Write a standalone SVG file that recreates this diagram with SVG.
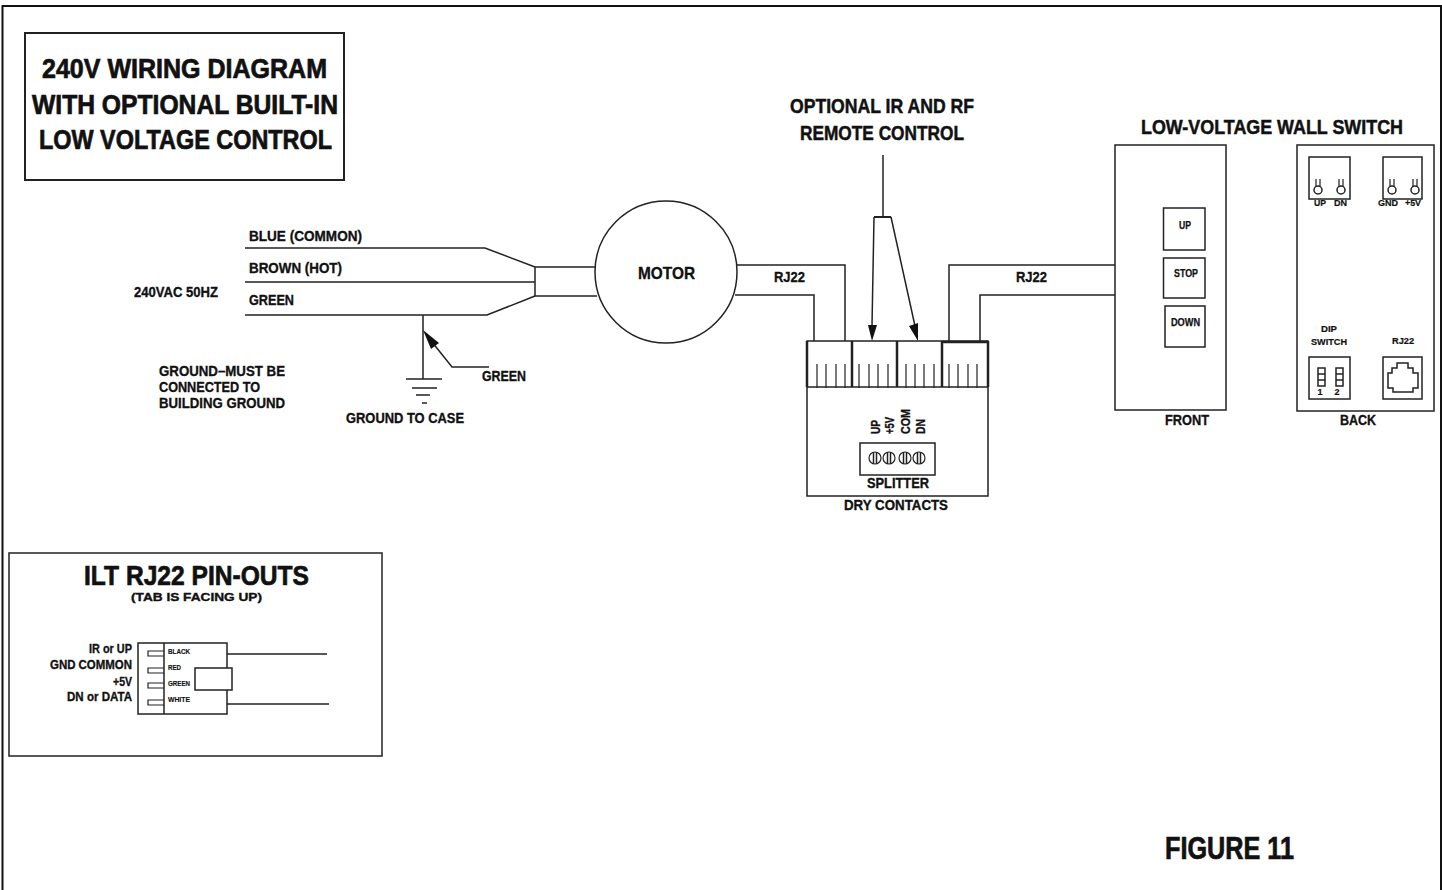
<svg xmlns="http://www.w3.org/2000/svg" width="1442" height="890" viewBox="0 0 1442 890">
<style>
text{font-family:"Liberation Sans",Arial,sans-serif;font-weight:700;fill:#111;stroke:#111;stroke-width:.35px}
.l{fill:none;stroke:#222;stroke-width:1.5}
.t{fill:none;stroke:#222;stroke-width:1.2}
.b{fill:#fff;stroke:#222;stroke-width:1.5}
.a{fill:#111;stroke:none}
.s9{font-size:9px;stroke-width:.2px}.s10{font-size:10px;stroke-width:.25px}.s7{font-size:7px;stroke-width:.15px}.s15{font-size:15px}.s20{font-size:20px;stroke-width:.5px}.s27{font-size:27px;stroke-width:.7px}.s31{font-size:31px;stroke-width:.7px}
.m{text-anchor:middle}
</style>
<defs>
<g id="switch"><path class="t" d="M-2 -11V-3M2 -11V-3"/><circle cx="0" cy="0" r="4" fill="#fff" stroke="#222" stroke-width="1.5"/></g>
<g id="screw"><circle class="t" cx="0" cy="0" r="6"/><path class="l" d="M-1.5 -6V6M1.5 -6V6"/></g>
</defs>
<rect width="1442" height="890" fill="#fff"/>
<path id="frame" d="M2.5 890V6H1441V890" fill="none" stroke="#111" stroke-width="2"/>
<g id="title"><rect class="b" style="stroke-width:2" x="25" y="33" width="319" height="147"/>
<text class="s27" x="42" y="78" textLength="285" lengthAdjust="spacingAndGlyphs">240V WIRING DIAGRAM</text>
<text class="s27" x="32" y="114" textLength="306" lengthAdjust="spacingAndGlyphs">WITH OPTIONAL BUILT-IN</text>
<text class="s27" x="39" y="149" textLength="293" lengthAdjust="spacingAndGlyphs">LOW VOLTAGE CONTROL</text></g>
<g id="connectors">
<path class="l" d="M245 248H485L535 267M245 282H535M245 315H487L535 296M535 267V296M535 267H597M535 296H597"/>
<path class="l" d="M423 315V379M406 379H442M412 388H437M416 395H430M422 403H427"/>
<path class="l" d="M489 367H452L428 337"/><path class="a" d="M423 330L439 343 431 349Z"/>
<path class="l" d="M735 265H845V341M735 295H814V341M949 341V265H1115M980 341V295H1115"/>
<path class="l" d="M883 155V217"/><path style="fill:none;stroke:#222;stroke-width:2" d="M874 217H891"/>
<path class="l" d="M874 217L872 326M891 217L915 326"/>
<path class="a" d="M868 325H877L872 341ZM909 326L918 323 918 341Z"/>
</g>
<g id="labels-wiring">
<text class="s15" x="249" y="241" textLength="113" lengthAdjust="spacingAndGlyphs">BLUE (COMMON)</text>
<text class="s15" x="249" y="273" textLength="93" lengthAdjust="spacingAndGlyphs">BROWN (HOT)</text>
<text class="s15" x="249" y="305" textLength="45" lengthAdjust="spacingAndGlyphs">GREEN</text>
<text class="s15" x="134" y="297" textLength="84" lengthAdjust="spacingAndGlyphs">240VAC 50HZ</text>
<text class="s15" x="159" y="376" textLength="126" lengthAdjust="spacingAndGlyphs">GROUND–MUST BE</text>
<text class="s15" x="159" y="392" textLength="101" lengthAdjust="spacingAndGlyphs">CONNECTED TO</text>
<text class="s15" x="159" y="408" textLength="126" lengthAdjust="spacingAndGlyphs">BUILDING GROUND</text>
<text class="s15" x="346" y="423" textLength="118" lengthAdjust="spacingAndGlyphs">GROUND TO CASE</text>
<text class="s15" x="482" y="381" textLength="44" lengthAdjust="spacingAndGlyphs">GREEN</text>
<text class="s15" x="774" y="282" textLength="31" lengthAdjust="spacingAndGlyphs">RJ22</text>
<text class="s15" x="1016" y="282" textLength="31" lengthAdjust="spacingAndGlyphs">RJ22</text>
<text class="s20" x="790" y="113" textLength="184" lengthAdjust="spacingAndGlyphs">OPTIONAL IR AND RF</text>
<text class="s20" x="800" y="140" textLength="164" lengthAdjust="spacingAndGlyphs">REMOTE CONTROL</text>
</g>
<g id="motor"><circle class="b" cx="666" cy="272" r="71"/>
<text x="638" y="279" font-size="17" textLength="57" lengthAdjust="spacingAndGlyphs">MOTOR</text></g>
<g id="splitter">
<rect class="b" x="807" y="341" width="181" height="155"/>
<path class="l" d="M807 387H988"/>
<path style="fill:none;stroke:#222;stroke-width:2.5" d="M807 341V387M852 341V387M897 341V387M942 341V387M942 342H988M988 341V387"/>
<path class="t" d="M817 364V388M826 364V388M836 364V388M845 364V388M859 364V388M869 364V388M878 364V388M888 364V388M906 364V388M915 364V388M924 364V388M934 364V388M949 364V388M958 364V388M968 364V388M977 364V388"/>
<rect class="b" x="860" y="443" width="75" height="32"/>
<use href="#screw" x="875" y="458"/><use href="#screw" x="889" y="458"/><use href="#screw" x="905" y="458"/><use href="#screw" x="919" y="458"/>
<text font-size="13" transform="translate(880 434) rotate(-90)" textLength="14" lengthAdjust="spacingAndGlyphs">UP</text>
<text font-size="13" transform="translate(894 434) rotate(-90)" textLength="17" lengthAdjust="spacingAndGlyphs">+5V</text>
<text font-size="13" transform="translate(910 434) rotate(-90)" textLength="25" lengthAdjust="spacingAndGlyphs">COM</text>
<text font-size="13" transform="translate(925 434) rotate(-90)" textLength="15" lengthAdjust="spacingAndGlyphs">DN</text>
<text class="s15" x="867" y="488" textLength="62" lengthAdjust="spacingAndGlyphs">SPLITTER</text>
<text class="s15" x="844" y="510" textLength="104" lengthAdjust="spacingAndGlyphs">DRY CONTACTS</text>
</g>
<g id="wall-switch-front">
<text class="s20" x="1141" y="134" textLength="262" lengthAdjust="spacingAndGlyphs">LOW-VOLTAGE WALL SWITCH</text>
<rect class="b" x="1115" y="145" width="111" height="265"/>
<rect class="b" x="1163.5" y="208" width="41.5" height="42"/>
<rect class="b" x="1163.5" y="258" width="41.5" height="40"/>
<rect class="b" x="1165" y="306" width="40" height="41"/>
<text class="s10" x="1179" y="229" textLength="12" lengthAdjust="spacingAndGlyphs">UP</text>
<text class="s10" x="1174" y="277" textLength="24" lengthAdjust="spacingAndGlyphs">STOP</text>
<text class="s10" x="1171" y="326" textLength="29" lengthAdjust="spacingAndGlyphs">DOWN</text>
<text class="s15" x="1165" y="425" textLength="44" lengthAdjust="spacingAndGlyphs">FRONT</text>
</g>
<g id="wall-switch-back">
<rect class="b" x="1297" y="145" width="137" height="266"/>
<rect class="b" x="1309" y="157" width="41" height="42"/>
<rect class="b" x="1383" y="157" width="39" height="42"/>
<use href="#switch" x="1318" y="190"/><use href="#switch" x="1341" y="190"/><use href="#switch" x="1392" y="190"/><use href="#switch" x="1415" y="190"/>
<text class="s9" x="1314" y="206" textLength="12" lengthAdjust="spacingAndGlyphs">UP</text><text class="s9" x="1334" y="206" textLength="13" lengthAdjust="spacingAndGlyphs">DN</text>
<text class="s9" x="1378" y="206" textLength="20" lengthAdjust="spacingAndGlyphs">GND</text><text class="s9" x="1405" y="206" textLength="16" lengthAdjust="spacingAndGlyphs">+5V</text>
<text class="s9" x="1321" y="332" textLength="16" lengthAdjust="spacingAndGlyphs">DIP</text><text class="s9" x="1311" y="345" textLength="36" lengthAdjust="spacingAndGlyphs">SWITCH</text>
<text class="s9" x="1392" y="344" textLength="22" lengthAdjust="spacingAndGlyphs">RJ22</text>
<rect class="b" x="1309" y="357" width="41" height="42"/>
<path class="l" d="M1318 368H1325V386H1318ZM1318 374H1325M1318 380H1325M1336 368H1343V386H1336ZM1336 374H1343M1336 380H1343"/>
<text class="s9 m" x="1320" y="395">1</text><text class="s9 m" x="1337" y="395">2</text>
<rect class="b" x="1383" y="357" width="39" height="42"/>
<path class="l" d="M1397 363H1408V368H1413V373H1418V388H1413V392H1393V388H1388V373H1392V368H1397Z"/>
<text class="s15" x="1340" y="425" textLength="36" lengthAdjust="spacingAndGlyphs">BACK</text>
</g>
<g id="pinouts">
<rect class="b" x="9" y="553" width="373" height="203"/>
<text x="84" y="585" font-size="28" style="stroke-width:.7px" textLength="225" lengthAdjust="spacingAndGlyphs">ILT RJ22 PIN-OUTS</text>
<text x="131" y="601" font-size="11" textLength="131" lengthAdjust="spacingAndGlyphs">(TAB IS FACING UP)</text>
<text x="89" y="653" font-size="13" textLength="43" lengthAdjust="spacingAndGlyphs">IR or UP</text>
<text x="50" y="669" font-size="13" textLength="82" lengthAdjust="spacingAndGlyphs">GND COMMON</text>
<text x="113" y="686" font-size="13" textLength="19" lengthAdjust="spacingAndGlyphs">+5V</text>
<text x="67" y="701" font-size="13" textLength="65" lengthAdjust="spacingAndGlyphs">DN or DATA</text>
<path class="l" d="M227 654H327M227 704H329"/>
<rect class="b" x="138" y="643" width="89" height="71"/>
<path class="l" d="M164 643V714"/>
<path class="t" d="M164 651H148V656H164M164 668H148V673H164M164 683H148V688H164M164 700H148V705H164"/>
<rect class="b" x="195" y="668" width="37" height="22"/>
<text class="s7" x="168" y="654" textLength="22" lengthAdjust="spacingAndGlyphs">BLACK</text><text class="s7" x="168" y="670" textLength="13" lengthAdjust="spacingAndGlyphs">RED</text>
<text class="s7" x="168" y="686" textLength="22" lengthAdjust="spacingAndGlyphs">GREEN</text><text class="s7" x="168" y="702" textLength="22" lengthAdjust="spacingAndGlyphs">WHITE</text>
</g>
<text id="figure" class="s31" x="1165" y="859" textLength="129" lengthAdjust="spacingAndGlyphs">FIGURE 11</text>
</svg>
